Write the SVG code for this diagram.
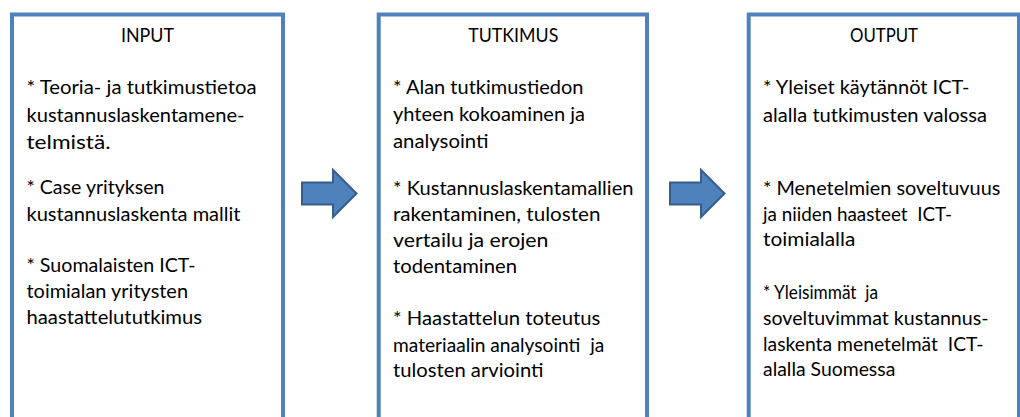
<svg xmlns="http://www.w3.org/2000/svg" width="1020" height="417" viewBox="0 0 1020 417">
  <style>
    .box { fill: #ffffff; stroke: #4f81bd; stroke-width: 4; }
    .arrow { fill: #4f81bd; stroke: #385d8a; stroke-width: 2; stroke-linejoin: miter; }
    text { font-family: Lato, "Open Sans", "Liberation Sans", sans-serif; font-size: 19.5px; fill: #000000; white-space: pre; }
    .head { text-anchor: middle; }
  </style>
  <defs>
    <polygon id="blockArrow" class="arrow" points="0,-11 31,-11 31,-23.5 54.5,0 31,23.5 31,11 0,11"/>
  </defs>
  <rect width="1020" height="417" fill="#ffffff"/>

  <!-- process flow arrows -->
  <g id="connectors">
    <use href="#blockArrow" x="302" y="193.5"/>
    <use href="#blockArrow" x="670" y="193.5"/>
  </g>

  <g id="input">
    <rect class="box" x="12" y="14.5" width="271" height="430"/>
    <text class="head" x="147.5" y="41.5" textLength="53" lengthAdjust="spacingAndGlyphs">INPUT</text>
    <text x="26.5" y="94" textLength="230" lengthAdjust="spacingAndGlyphs">* Teoria- ja tutkimustietoa</text>
    <text x="26.5" y="122" textLength="218" lengthAdjust="spacingAndGlyphs">kustannuslaskentamene-</text>
    <text x="26.5" y="149" textLength="84" lengthAdjust="spacingAndGlyphs">telmistä.</text>
    <text x="26.5" y="194" textLength="138" lengthAdjust="spacingAndGlyphs">* Case yrityksen</text>
    <text x="26.5" y="221" textLength="214" lengthAdjust="spacingAndGlyphs">kustannuslaskenta mallit</text>
    <text x="26.5" y="272" textLength="169" lengthAdjust="spacingAndGlyphs">* Suomalaisten ICT-</text>
    <text x="26.5" y="298" textLength="161.5" lengthAdjust="spacingAndGlyphs">toimialan yritysten</text>
    <text x="26.5" y="324" textLength="175.5" lengthAdjust="spacingAndGlyphs">haastattelututkimus</text>
  </g>

  <g id="tutkimus">
    <rect class="box" x="378.7" y="14.5" width="268.3" height="430"/>
    <text class="head" x="513.3" y="42" textLength="90" lengthAdjust="spacingAndGlyphs">TUTKIMUS</text>
    <text x="393" y="94" textLength="190.5" lengthAdjust="spacingAndGlyphs">* Alan tutkimustiedon</text>
    <text x="393" y="121" textLength="192" lengthAdjust="spacingAndGlyphs">yhteen kokoaminen ja</text>
    <text x="393" y="147.5" textLength="95.5" lengthAdjust="spacingAndGlyphs">analysointi</text>
    <text x="393" y="194.5" textLength="240.5" lengthAdjust="spacingAndGlyphs">* Kustannuslaskentamallien</text>
    <text x="393" y="220.5" textLength="207.5" lengthAdjust="spacingAndGlyphs">rakentaminen, tulosten</text>
    <text x="393" y="247" textLength="155.5" lengthAdjust="spacingAndGlyphs">vertailu ja erojen</text>
    <text x="393" y="273" textLength="124" lengthAdjust="spacingAndGlyphs">todentaminen</text>
    <text x="393" y="325" textLength="207.3" lengthAdjust="spacingAndGlyphs">* Haastattelun toteutus</text>
    <text x="393" y="351.5" textLength="211.3" lengthAdjust="spacingAndGlyphs">materiaalin analysointi  ja</text>
    <text x="393" y="377" textLength="150.5" lengthAdjust="spacingAndGlyphs">tulosten arviointi</text>
  </g>

  <g id="output">
    <rect class="box" x="748.7" y="14.5" width="270.3" height="430"/>
    <text class="head" x="884" y="41.5" textLength="68" lengthAdjust="spacingAndGlyphs">OUTPUT</text>
    <text x="763" y="94.3" textLength="206.5" lengthAdjust="spacingAndGlyphs">* Yleiset käytännöt ICT-</text>
    <text x="763" y="122" textLength="224" lengthAdjust="spacingAndGlyphs">alalla tutkimusten valossa</text>
    <text x="763" y="195" textLength="237.3" lengthAdjust="spacingAndGlyphs">* Menetelmien soveltuvuus</text>
    <text x="763" y="220.5" textLength="189" lengthAdjust="spacingAndGlyphs">ja niiden haasteet  ICT-</text>
    <text x="763" y="246.3" textLength="92.3" lengthAdjust="spacingAndGlyphs">toimialalla</text>
    <text x="763" y="299" textLength="115" lengthAdjust="spacingAndGlyphs">* Yleisimmät  ja</text>
    <text x="763" y="325" textLength="225.5" lengthAdjust="spacingAndGlyphs">soveltuvimmat kustannus-</text>
    <text x="763" y="351" textLength="220.5" lengthAdjust="spacingAndGlyphs">laskenta menetelmät  ICT-</text>
    <text x="763" y="376" textLength="132.3" lengthAdjust="spacingAndGlyphs">alalla Suomessa</text>
  </g>
</svg>
